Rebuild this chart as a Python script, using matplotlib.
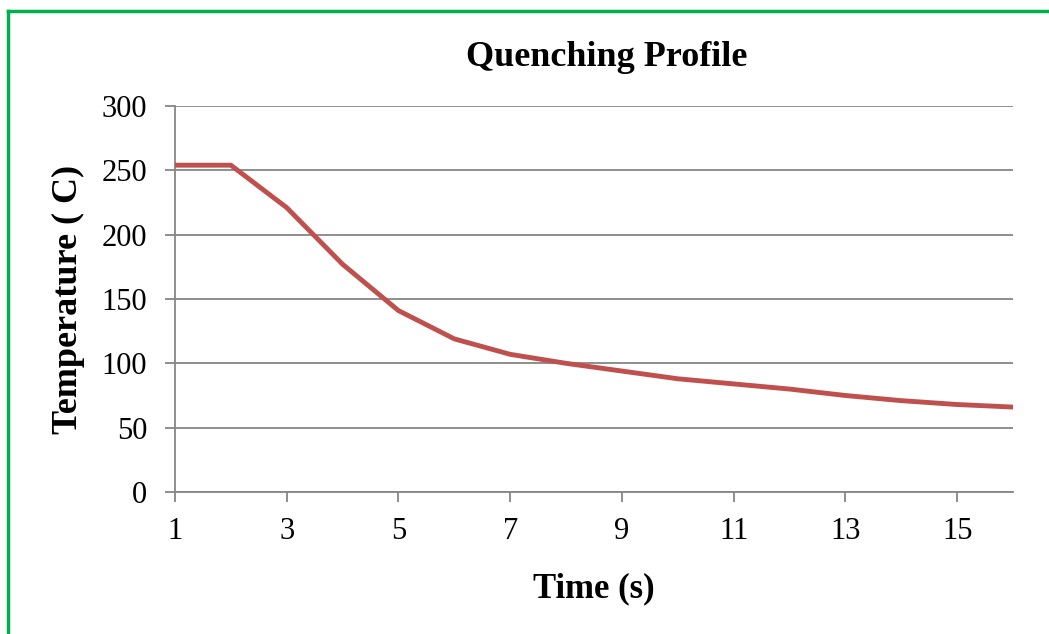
import matplotlib
matplotlib.use('Agg')
import matplotlib.pyplot as plt
from matplotlib.lines import Line2D

time_s = [1, 2, 3, 4, 5, 6, 7, 8, 9, 10, 11, 12, 13, 14, 15, 16]
temperature = [254, 254, 221, 177, 141, 119, 107, 100, 94, 88, 84, 80, 75, 71, 68, 66]
x_ticks = [1, 3, 5, 7, 9, 11, 13, 15]
y_ticks = [0, 50, 100, 150, 200, 250, 300]

plt.rcParams['font.family'] = ['Liberation Serif', 'DejaVu Serif']

W, H = 1049, 634
fig = plt.figure(figsize=(W / 100, H / 100), dpi=100)
ax = fig.add_axes([175 / W, 1 - 492 / H, (1013 - 175) / W, (492 - 106) / H])

grid_c = '#868686'
ax.plot(time_s, temperature, color='#C0504D', linewidth=3.5, solid_joinstyle='miter', zorder=3)

ax.set_xlim(1, 16)
ax.set_ylim(0, 300)
ax.set_xticks(x_ticks)
ax.set_yticks(y_ticks)
ax.yaxis.grid(True, color=grid_c, linewidth=1.3)
ax.set_axisbelow(True)
for s in ['top', 'right']:
    ax.spines[s].set_visible(False)
for s in ['left', 'bottom']:
    ax.spines[s].set_color(grid_c)
    ax.spines[s].set_linewidth(1.3)
ax.tick_params(axis='both', colors=grid_c, labelcolor='black', labelsize=22,
               length=7, width=1.3, direction='out')
ax.tick_params(axis='x', pad=11)
ax.tick_params(axis='y', pad=13)

ax.set_xlabel('Time (s)', fontsize=25, fontweight='bold', labelpad=19)
ax.set_ylabel('Temperature ( C)', fontsize=26, fontweight='bold', labelpad=12)
fig.text(607 / W, 1 - 58 / H, 'Quenching Profile', fontsize=26, fontweight='bold',
         ha='center', va='center')

# green frame (top and left edges visible)
fig.add_artist(Line2D([8 / W, 1], [1 - 11 / H, 1 - 11 / H], color='#00B050', linewidth=2.5,
                      transform=fig.transFigure))
fig.add_artist(Line2D([8 / W, 8 / W], [0, 1 - 11 / H], color='#00B050', linewidth=2.5,
                      transform=fig.transFigure))

fig.savefig('out.png', dpi=100)
